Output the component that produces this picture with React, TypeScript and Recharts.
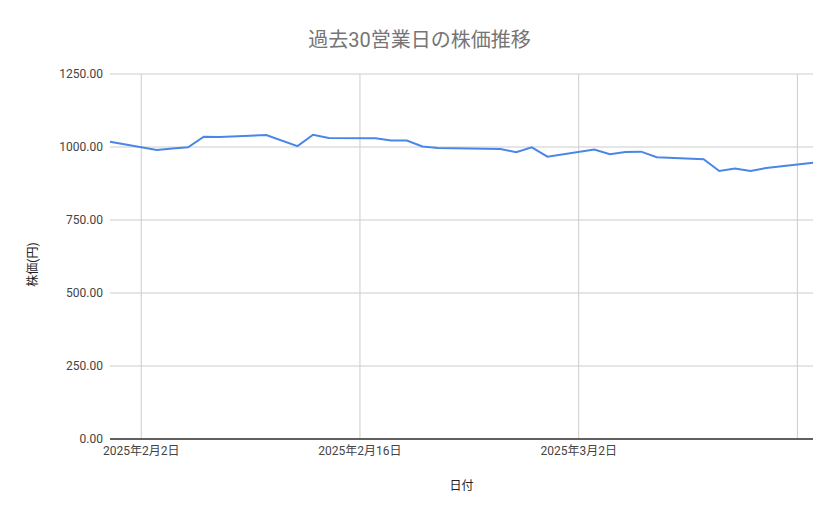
import { LineChart, Line, XAxis, YAxis, CartesianGrid, Label, ReferenceLine } from 'recharts';

// 過去30営業日の株価 (2025-01-31 〜 2025-03-17)
const dates = [
  '2025-01-31', '2025-02-03', '2025-02-04', '2025-02-05', '2025-02-06', '2025-02-07',
  '2025-02-10', '2025-02-12', '2025-02-13', '2025-02-14',
  '2025-02-17', '2025-02-18', '2025-02-19', '2025-02-20', '2025-02-21',
  '2025-02-25', '2025-02-26', '2025-02-27', '2025-02-28',
  '2025-03-03', '2025-03-04', '2025-03-05', '2025-03-06', '2025-03-07',
  '2025-03-10', '2025-03-11', '2025-03-12', '2025-03-13', '2025-03-14',
  '2025-03-17',
];
const prices = [
  1018, 990, 995, 999, 1035, 1034,
  1041, 1003, 1042, 1031,
  1030, 1022, 1022, 1002, 997,
  993, 982, 999, 967,
  991, 975, 983, 984, 965,
  958, 918, 926, 918, 928,
  946,
];
const xTickDates = ['2025-02-02', '2025-02-16', '2025-03-02', '2025-03-16'];
const xLabeled = ['2025-02-02', '2025-02-16', '2025-03-02'];
const yTicks = [0, 250, 500, 750, 1000, 1250];

const toTime = (s: string) => {
  const [y, m, d] = s.split('-').map(Number);
  return Date.UTC(y, m - 1, d);
};

const data = dates.map((d, i) => ({ t: toTime(d), price: prices[i] }));
const xTicks = xTickDates.map(toTime);
const labeledTicks = xLabeled.map(toTime);

const FONT = "Roboto, 'Noto Sans CJK JP', sans-serif";

const formatDate = (t: number) => {
  if (!labeledTicks.includes(t)) return '';
  const d = new Date(t);
  return `${d.getUTCFullYear()}年${d.getUTCMonth() + 1}月${d.getUTCDate()}日`;
};

export default function App() {
  return (
    <div style={{ position: 'absolute', left: 0, top: 0, width: 839, height: 519, background: '#fff', fontFamily: FONT }}>
      <div
        style={{
          position: 'absolute',
          top: 27,
          left: 0,
          width: 839,
          textAlign: 'center',
          fontSize: 20,
          color: '#757575',
          lineHeight: '26px',
        }}
      >
        過去30営業日の株価推移
      </div>
      <LineChart
        width={839}
        height={519}
        data={data}
        margin={{ top: 74, right: 26, bottom: 0, left: 0 }}
        style={{ fontFamily: FONT }}
      >
        <CartesianGrid stroke="#cccccc" strokeWidth={1} vertical={false} />
        {xTicks.map((t) => (
          <ReferenceLine key={t} x={t} stroke="#cccccc" strokeWidth={1} />
        ))}
        <XAxis
          dataKey="t"
          type="number"
          scale="time"
          domain={[toTime(dates[0]), toTime(dates[dates.length - 1])]}
          ticks={xTicks}
          tickFormatter={formatDate}
          tickLine={false}
          axisLine={{ stroke: '#333333', strokeWidth: 1.5 }}
          tick={{ fontSize: 12, fill: '#444444' }}
          tickSize={5}
          tickMargin={2}
          height={80}
          interval={0}
        >
          <Label
            content={({ viewBox }: any) => (
              <text
                x={viewBox.x + viewBox.width / 2}
                y={viewBox.y + 51}
                textAnchor="middle"
                fontSize={12}
                fill="#222222"
                fontFamily={FONT}
              >
                日付
              </text>
            )}
          />
        </XAxis>
        <YAxis
          type="number"
          domain={[0, 1250]}
          ticks={yTicks}
          tickFormatter={(v: number) => v.toFixed(2)}
          tickLine={false}
          axisLine={false}
          tick={{ fontSize: 12, fill: '#444444' }}
          tickSize={5}
          tickMargin={2}
          width={110}
        >
          <Label
            content={({ viewBox }: any) => {
              const x = viewBox.x + 33;
              const y = viewBox.y + viewBox.height / 2 + 8;
              return (
                <text
                  x={x}
                  y={y}
                  transform={`rotate(-90 ${x} ${y})`}
                  textAnchor="middle"
                  dominantBaseline="central"
                  fontSize={12}
                  fill="#222222"
                  fontFamily={FONT}
                >
                  株価(円)
                </text>
              );
            }}
          />
        </YAxis>
        <Line
          type="linear"
          dataKey="price"
          stroke="#4a86e8"
          strokeWidth={2}
          dot={false}
          isAnimationActive={false}
        />
      </LineChart>
    </div>
  );
}
